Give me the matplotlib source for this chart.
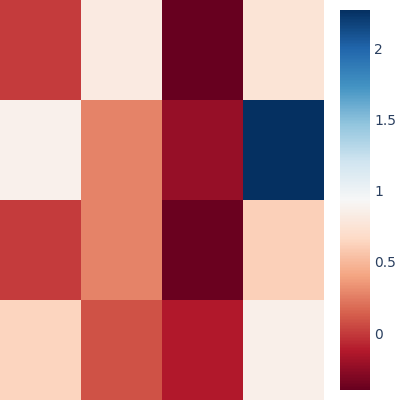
import numpy as np
import matplotlib
matplotlib.use("Agg")
import matplotlib.pyplot as plt

rows = ["r0", "r1", "r2", "r3"]
cols = ["c0", "c1", "c2", "c3"]
values = [
    [0.00, 0.81, -0.40, 0.75],
    [0.87, 0.27, -0.23, 2.27],
    [0.00, 0.27, -0.38, 0.62],
    [0.64, 0.09, -0.13, 0.86],
]
vmin, vmax = -0.40, 2.27
cbar_ticks = [0, 0.5, 1, 1.5, 2]
cbar_labels = ["0", "0.5", "1", "1.5", "2"]

fig = plt.figure(figsize=(4, 4), dpi=100)
ax = fig.add_axes([0, 0, 0.81, 1.0])
cax = fig.add_axes([0.85, 0.025, 0.075, 0.95])

data = np.array(values)
im = ax.pcolormesh(data, cmap="RdBu", vmin=vmin, vmax=vmax)
ax.set_xlim(0, len(cols))
ax.set_ylim(len(rows), 0)
ax.set_axis_off()

cb = fig.colorbar(im, cax=cax)
cb.outline.set_visible(False)
cb.set_ticks(cbar_ticks)
cb.set_ticklabels(cbar_labels)
cax.tick_params(length=0, labelsize=10, labelcolor="#2a3f5f", pad=3)

fig.savefig("out.png", dpi=100)
